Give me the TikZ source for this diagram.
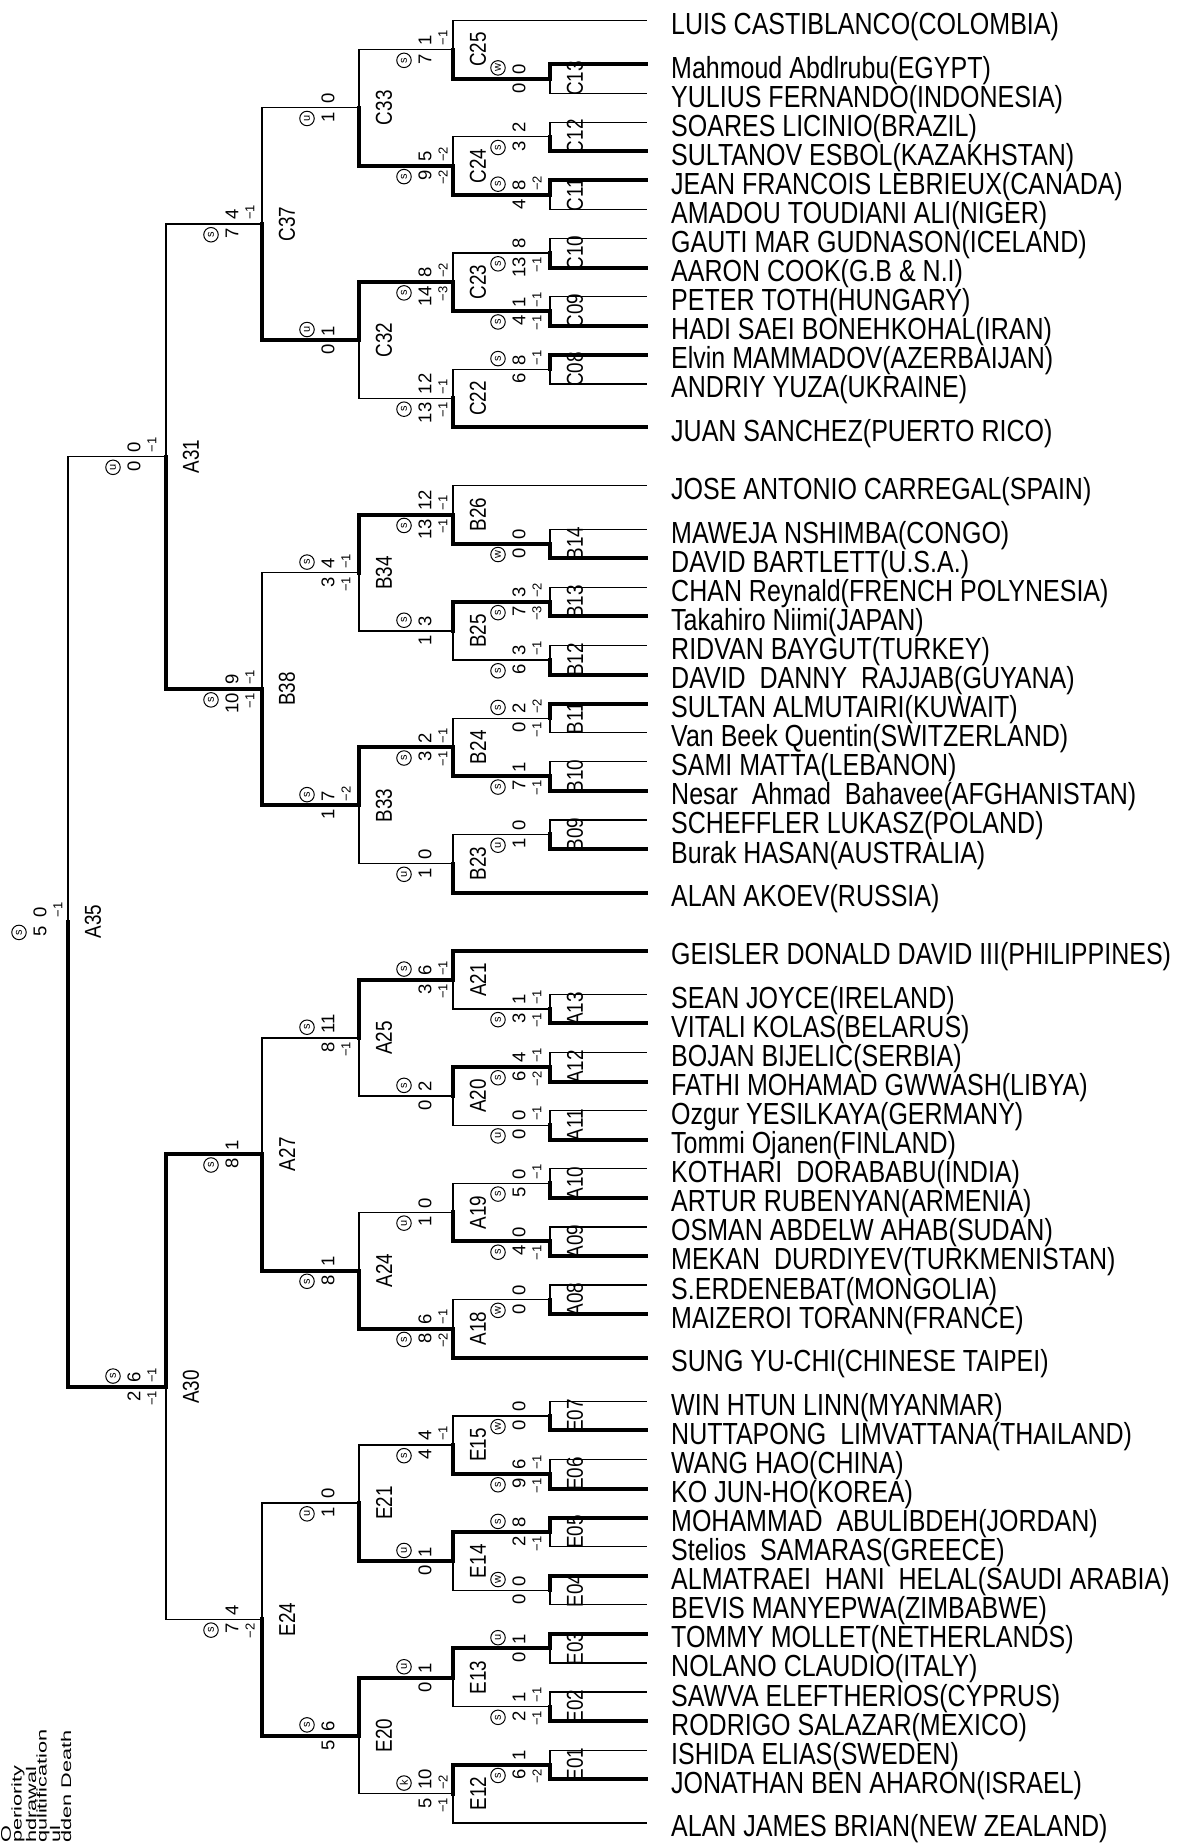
\documentclass[tikz,border=0pt]{standalone}
\usepackage{fontspec}
\setmainfont{Liberation Sans}
\newfontfamily\namefont[FakeStretch=0.82]{Liberation Sans}
\newfontfamily\legfont[FakeStretch=1.55]{Liberation Sans}
\pgfmathdeclarefunction{ry}{1}{\pgfmathparse{20.5+29.07*#1}}
\tikzset{
 thinl/.style={line width=1.3pt, line cap=rect, line join=miter},
 thickl/.style={line width=4pt, line cap=rect, line join=miter},
 pname/.style={anchor=base west, inner sep=0pt, font=\namefont\fontsize{30.5}{30.5}\selectfont},
 mname/.style={rotate=90, inner sep=0pt, font=\namefont\fontsize{23}{23}\selectfont},
 snum/.style={rotate=90, inner sep=0pt, font=\fontsize{18.5}{18.5}\selectfont},
 spen/.style={rotate=90, inner sep=0pt, font=\fontsize{13}{13}\selectfont},
 circ/.style={rotate=90, circle, draw, line width=1pt, inner sep=0pt, minimum size=14.5pt, font=\fontsize{11}{11}\selectfont},
 leg/.style={rotate=90, anchor=west, inner sep=0pt, font=\legfont\fontsize{14}{14}\selectfont},
}
\newcommand\player[3]{\coordinate (#1) at (646,{ry(#2)});
  \node[pname] (#1n) at (671,{ry(#2)+14}) {#3};}
\newcommand\bout[6]{%
  \coordinate (#1) at (#2,{ry(#3)});
  \draw[thinl] (#4) -- (#4 -| #1) -- (#5 -| #1) -- (#5);
  \draw[thickl] (#6) -- (#6 -| #1) -- (#1);
  \node[mname] (#1n) at ([xshift=25pt]#1) {#1};}
\newcommand\scores[9]{%
  \if\relax\detokenize{#4}\relax\else\node[circ,anchor=west] (#1uc) at ({#2+45},{ry(#3)-3}) {#4};\fi
  \node[snum,anchor=west] (#1us) at ({#2+66},{ry(#3)-4}) {#5};
  \if\relax\detokenize{#6}\relax\else\node[spen,anchor=west] (#1up) at ({#2+84},{ry(#3)-4}) {#6};\fi
  \if\relax\detokenize{#7}\relax\else\node[circ,anchor=east] (#1lc) at ({#2+45},{ry(#3)+3}) {#7};\fi
  \node[snum,anchor=east] (#1ls) at ({#2+66},{ry(#3)+4}) {#8};
  \if\relax\detokenize{#9}\relax\else\node[spen,anchor=east] (#1lp) at ({#2+84},{ry(#3)+4}) {#9};\fi}
\begin{document}
\begin{tikzpicture}[x=1pt,y=-1pt]
\fill[white] (0,0) rectangle (1190,1845);
\useasboundingbox (0,0) rectangle (1190,1845);
% players
\player{pc0}{0}{LUIS CASTIBLANCO(COLOMBIA)}
\player{pc1}{1.5}{Mahmoud Abdlrubu(EGYPT)}
\player{pc2}{2.5}{YULIUS FERNANDO(INDONESIA)}
\player{pc3}{3.5}{SOARES LICINIO(BRAZIL)}
\player{pc4}{4.5}{SULTANOV ESBOL(KAZAKHSTAN)}
\player{pc5}{5.5}{JEAN FRANCOIS LEBRIEUX(CANADA)}
\player{pc6}{6.5}{AMADOU TOUDIANI ALI(NIGER)}
\player{pc7}{7.5}{GAUTI MAR GUDNASON(ICELAND)}
\player{pc8}{8.5}{AARON COOK(G.B \& N.I)}
\player{pc9}{9.5}{PETER TOTH(HUNGARY)}
\player{pc10}{10.5}{HADI SAEI BONEHKOHAL(IRAN)}
\player{pc11}{11.5}{Elvin MAMMADOV(AZERBAIJAN)}
\player{pc12}{12.5}{ANDRIY YUZA(UKRAINE)}
\player{pc13}{14}{JUAN SANCHEZ(PUERTO RICO)}
\player{pb0}{16}{JOSE ANTONIO CARREGAL(SPAIN)}
\player{pb1}{17.5}{MAWEJA NSHIMBA(CONGO)}
\player{pb2}{18.5}{DAVID BARTLETT(U.S.A.)}
\player{pb3}{19.5}{CHAN Reynald(FRENCH POLYNESIA)}
\player{pb4}{20.5}{Takahiro Niimi(JAPAN)}
\player{pb5}{21.5}{RIDVAN BAYGUT(TURKEY)}
\player{pb6}{22.5}{DAVID\ \ DANNY\ \ RAJJAB(GUYANA)}
\player{pb7}{23.5}{SULTAN ALMUTAIRI(KUWAIT)}
\player{pb8}{24.5}{Van Beek Quentin(SWITZERLAND)}
\player{pb9}{25.5}{SAMI MATTA(LEBANON)}
\player{pb10}{26.5}{Nesar\ \ Ahmad\ \ Bahavee(AFGHANISTAN)}
\player{pb11}{27.5}{SCHEFFLER LUKASZ(POLAND)}
\player{pb12}{28.5}{Burak HASAN(AUSTRALIA)}
\player{pb13}{30}{ALAN AKOEV(RUSSIA)}
\player{pa0}{32}{GEISLER DONALD DAVID III(PHILIPPINES)}
\player{pa1}{33.5}{SEAN JOYCE(IRELAND)}
\player{pa2}{34.5}{VITALI KOLAS(BELARUS)}
\player{pa3}{35.5}{BOJAN BIJELIC(SERBIA)}
\player{pa4}{36.5}{FATHI MOHAMAD GWWASH(LIBYA)}
\player{pa5}{37.5}{Ozgur YESILKAYA(GERMANY)}
\player{pa6}{38.5}{Tommi Ojanen(FINLAND)}
\player{pa7}{39.5}{KOTHARI\ \ DORABABU(INDIA)}
\player{pa8}{40.5}{ARTUR RUBENYAN(ARMENIA)}
\player{pa9}{41.5}{OSMAN ABDELW AHAB(SUDAN)}
\player{pa10}{42.5}{MEKAN\ \ DURDIYEV(TURKMENISTAN)}
\player{pa11}{43.5}{S.ERDENEBAT(MONGOLIA)}
\player{pa12}{44.5}{MAIZEROI TORANN(FRANCE)}
\player{pa13}{46}{SUNG YU-CHI(CHINESE TAIPEI)}
\player{pe0}{47.5}{WIN HTUN LINN(MYANMAR)}
\player{pe1}{48.5}{NUTTAPONG\ \ LIMVATTANA(THAILAND)}
\player{pe2}{49.5}{WANG HAO(CHINA)}
\player{pe3}{50.5}{KO JUN-HO(KOREA)}
\player{pe4}{51.5}{MOHAMMAD\ \ ABULIBDEH(JORDAN)}
\player{pe5}{52.5}{Stelios\ \ SAMARAS(GREECE)}
\player{pe6}{53.5}{ALMATRAEI\ \ HANI\ \ HELAL(SAUDI ARABIA)}
\player{pe7}{54.5}{BEVIS MANYEPWA(ZIMBABWE)}
\player{pe8}{55.5}{TOMMY MOLLET(NETHERLANDS)}
\player{pe9}{56.5}{NOLANO CLAUDIO(ITALY)}
\player{pe10}{57.5}{SAWVA ELEFTHERIOS(CYPRUS)}
\player{pe11}{58.5}{RODRIGO SALAZAR(MEXICO)}
\player{pe12}{59.5}{ISHIDA ELIAS(SWEDEN)}
\player{pe13}{60.5}{JONATHAN BEN AHARON(ISRAEL)}
\player{pe14}{62}{ALAN JAMES BRIAN(NEW ZEALAND)}
% round 1
\bout{C13}{550}{2}{pc1}{pc2}{pc1}
\bout{C12}{550}{4}{pc3}{pc4}{pc4}
\bout{C11}{550}{6}{pc5}{pc6}{pc5}
\bout{C10}{550}{8}{pc7}{pc8}{pc8}
\bout{C09}{550}{10}{pc9}{pc10}{pc10}
\bout{C08}{550}{12}{pc11}{pc12}{pc11}
\bout{B14}{550}{18}{pb1}{pb2}{pb2}
\bout{B13}{550}{20}{pb3}{pb4}{pb4}
\bout{B12}{550}{22}{pb5}{pb6}{pb6}
\bout{B11}{550}{24}{pb7}{pb8}{pb7}
\bout{B10}{550}{26}{pb9}{pb10}{pb10}
\bout{B09}{550}{28}{pb11}{pb12}{pb12}
\bout{A13}{550}{34}{pa1}{pa2}{pa2}
\bout{A12}{550}{36}{pa3}{pa4}{pa4}
\bout{A11}{550}{38}{pa5}{pa6}{pa6}
\bout{A10}{550}{40}{pa7}{pa8}{pa8}
\bout{A09}{550}{42}{pa9}{pa10}{pa10}
\bout{A08}{550}{44}{pa11}{pa12}{pa12}
\bout{E07}{550}{48}{pe0}{pe1}{pe1}
\bout{E06}{550}{50}{pe2}{pe3}{pe3}
\bout{E05}{550}{52}{pe4}{pe5}{pe4}
\bout{E04}{550}{54}{pe6}{pe7}{pe6}
\bout{E03}{550}{56}{pe8}{pe9}{pe8}
\bout{E02}{550}{58}{pe10}{pe11}{pe11}
\bout{E01}{550}{60}{pe12}{pe13}{pe13}
% round 2
\bout{C25}{453}{1}{pc0}{C13}{C13}
\bout{C24}{453}{5}{C12}{C11}{C11}
\bout{C23}{453}{9}{C10}{C09}{C09}
\bout{C22}{453}{13}{C08}{pc13}{pc13}
\bout{B26}{453}{17}{pb0}{B14}{B14}
\bout{B25}{453}{21}{B13}{B12}{B13}
\bout{B24}{453}{25}{B11}{B10}{B10}
\bout{B23}{453}{29}{B09}{pb13}{pb13}
\bout{A21}{453}{33}{pa0}{A13}{pa0}
\bout{A20}{453}{37}{A12}{A11}{A12}
\bout{A19}{453}{41}{A10}{A09}{A09}
\bout{A18}{453}{45}{A08}{pa13}{pa13}
\bout{E15}{453}{49}{E07}{E06}{E06}
\bout{E14}{453}{53}{E05}{E04}{E05}
\bout{E13}{453}{57}{E03}{E02}{E03}
\bout{E12}{453}{61}{E01}{pe14}{E01}
% round 3
\bout{C33}{359}{3}{C25}{C24}{C24}
\bout{C32}{359}{11}{C23}{C22}{C23}
\bout{B34}{359}{19}{B26}{B25}{B26}
\bout{B33}{359}{27}{B24}{B23}{B24}
\bout{A25}{359}{35}{A21}{A20}{A21}
\bout{A24}{359}{43}{A19}{A18}{A18}
\bout{E21}{359}{51}{E15}{E14}{E14}
\bout{E20}{359}{59}{E13}{E12}{E13}
% round 4
\bout{C37}{262}{7}{C33}{C32}{C32}
\bout{B38}{262}{23}{B34}{B33}{B33}
\bout{A27}{262}{39}{A25}{A24}{A24}
\bout{E24}{262}{55}{E21}{E20}{E20}
% round 5, 6
\bout{A31}{166}{15}{C37}{B38}{B38}
\bout{A30}{166}{47}{A27}{E24}{A27}
\bout{A35}{68}{31}{A31}{A30}{A30}
% scores
\scores{C13}{453}{2}{w}{0}{}{}{0}{}
\scores{C12}{453}{4}{}{2}{}{s}{3}{}
\scores{C11}{453}{6}{s}{8}{−2}{}{4}{}
\scores{C10}{453}{8}{}{8}{}{s}{13}{−1}
\scores{C09}{453}{10}{}{1}{−1}{s}{4}{−1}
\scores{C08}{453}{12}{s}{8}{−1}{}{6}{}
\scores{B14}{453}{18}{}{0}{}{w}{0}{}
\scores{B13}{453}{20}{}{3}{−2}{s}{7}{−3}
\scores{B12}{453}{22}{}{3}{−1}{s}{6}{}
\scores{B11}{453}{24}{s}{2}{−2}{}{0}{−1}
\scores{B10}{453}{26}{}{1}{}{s}{7}{−1}
\scores{B09}{453}{28}{}{0}{}{u}{1}{}
\scores{A13}{453}{34}{}{1}{−1}{s}{3}{−1}
\scores{A12}{453}{36}{}{4}{−1}{s}{6}{−2}
\scores{A11}{453}{38}{}{0}{−1}{u}{0}{}
\scores{A10}{453}{40}{}{0}{−1}{s}{5}{}
\scores{A09}{453}{42}{}{0}{}{s}{4}{−1}
\scores{A08}{453}{44}{}{0}{}{w}{0}{}
\scores{E07}{453}{48}{}{0}{}{w}{0}{}
\scores{E06}{453}{50}{}{6}{−1}{s}{9}{−1}
\scores{E05}{453}{52}{s}{8}{}{}{2}{−1}
\scores{E04}{453}{54}{w}{0}{}{}{0}{}
\scores{E03}{453}{56}{u}{1}{}{}{0}{}
\scores{E02}{453}{58}{}{1}{−1}{s}{2}{−1}
\scores{E01}{453}{60}{}{1}{}{s}{6}{−2}
\scores{C25}{359}{1}{}{1}{−1}{s}{7}{}
\scores{C24}{359}{5}{}{5}{−2}{s}{9}{−2}
\scores{C23}{359}{9}{}{8}{−2}{s}{14}{−3}
\scores{C22}{359}{13}{}{12}{−1}{s}{13}{−1}
\scores{B26}{359}{17}{}{12}{−1}{s}{13}{−1}
\scores{B25}{359}{21}{s}{3}{}{}{1}{}
\scores{B24}{359}{25}{}{2}{−1}{s}{3}{−1}
\scores{B23}{359}{29}{}{0}{}{u}{1}{}
\scores{A21}{359}{33}{s}{6}{−1}{}{3}{−1}
\scores{A20}{359}{37}{s}{2}{}{}{0}{}
\scores{A19}{359}{41}{}{0}{}{u}{1}{}
\scores{A18}{359}{45}{}{6}{−1}{s}{8}{−2}
\scores{E15}{359}{49}{}{4}{−1}{s}{4}{}
\scores{E14}{359}{53}{u}{1}{}{}{0}{}
\scores{E13}{359}{57}{u}{1}{}{}{0}{}
\scores{E12}{359}{61}{k}{10}{−2}{}{5}{−1}
\scores{C33}{262}{3}{}{0}{}{u}{1}{}
\scores{C32}{262}{11}{u}{1}{}{}{0}{}
\scores{B34}{262}{19}{s}{4}{−1}{}{3}{−1}
\scores{B33}{262}{27}{s}{7}{−2}{}{1}{}
\scores{A25}{262}{35}{s}{11}{}{}{8}{−1}
\scores{A24}{262}{43}{}{1}{}{s}{8}{}
\scores{E21}{262}{51}{}{0}{}{u}{1}{}
\scores{E20}{262}{59}{s}{6}{}{}{5}{}
\scores{C37}{166}{7}{}{4}{−1}{s}{7}{}
\scores{B38}{166}{23}{}{9}{−1}{s}{10}{−1}
\scores{A27}{166}{39}{}{1}{}{s}{8}{}
\scores{E24}{166}{55}{}{4}{}{s}{7}{−2}
\scores{A31}{68}{15}{}{0}{−1}{u}{0}{}
\scores{A30}{68}{47}{s}{6}{−1}{}{2}{−1}
\scores{A35}{-26}{31}{}{0}{−1}{s}{5}{}
% legend: only the parts that the page shows
\node[leg] (lg1) at (6,1843) {O};
\node[leg] (lg2) at (18,1843) {periority};
\node[leg] (lg3) at (31,1843) {hdrawal};
\node[leg] (lg4) at (43,1843) {qulitification};
\node[leg] (lg5) at (55,1843) {ul};
\node[leg] (lg6) at (66,1843) {dden Death};
\end{tikzpicture}
\end{document}
